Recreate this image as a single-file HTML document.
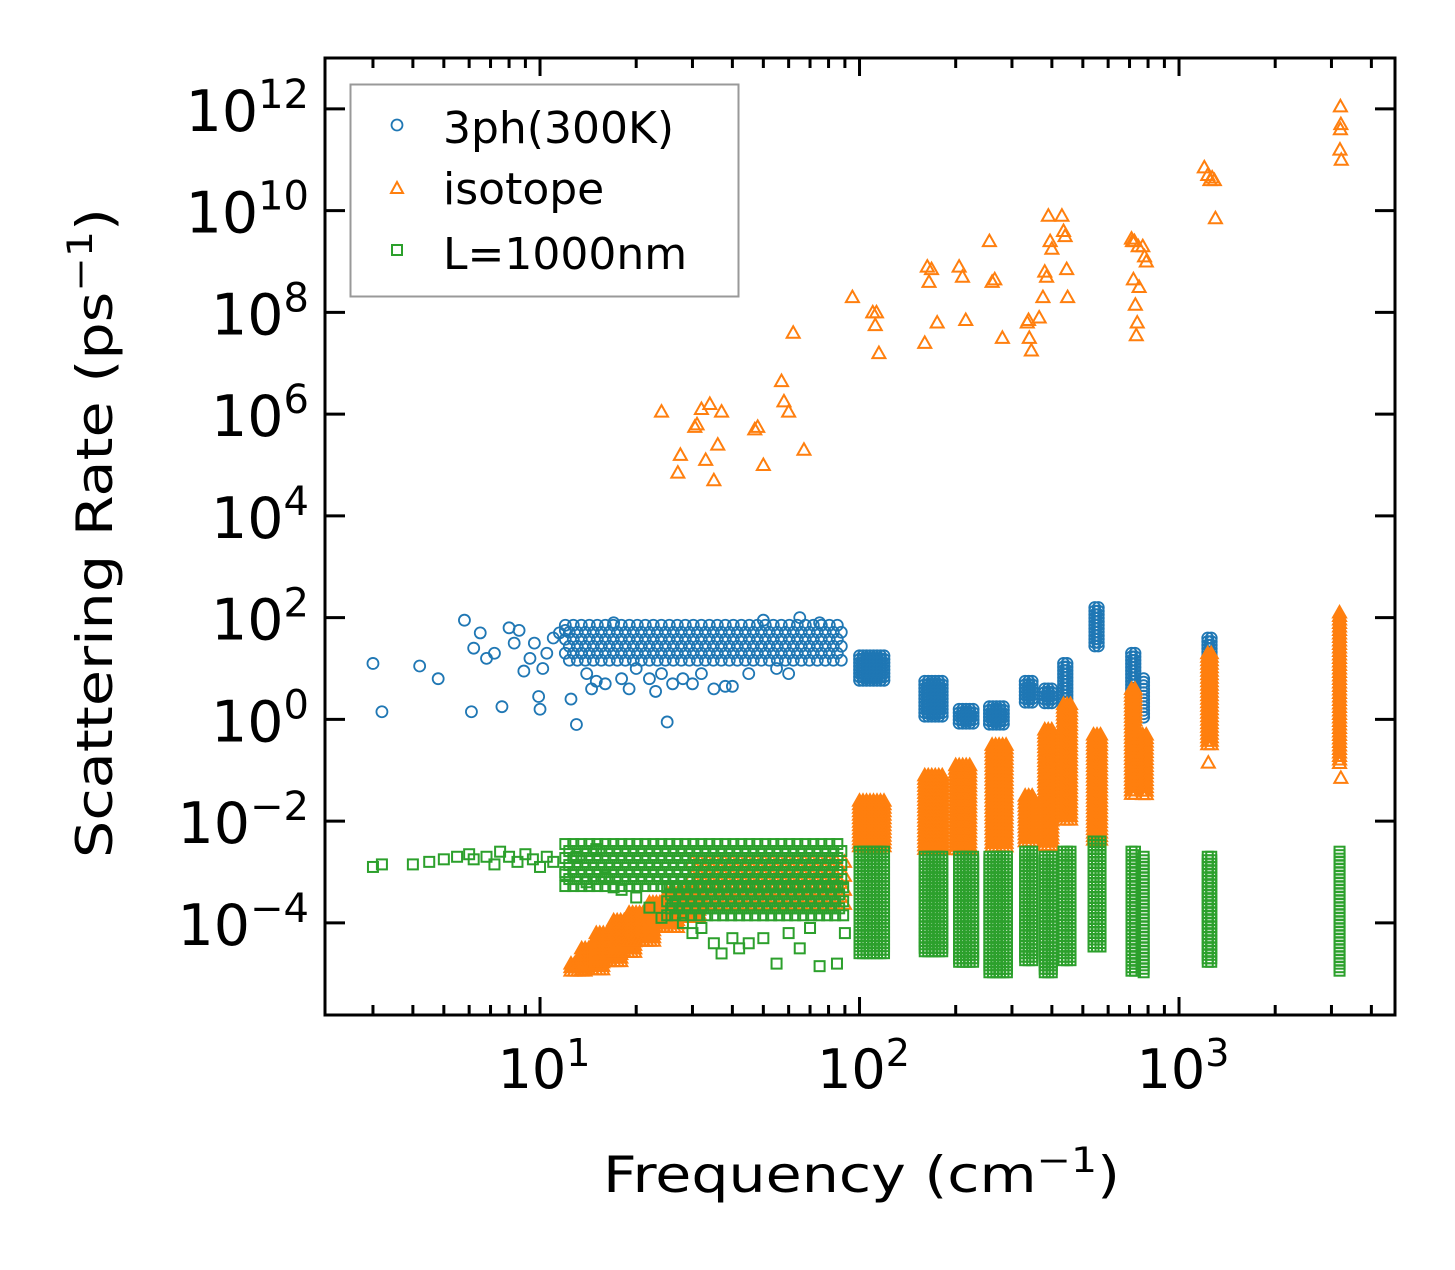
<!DOCTYPE html>
<html><head><meta charset="utf-8"><style>
body{margin:0;background:#fff}
svg text{font-family:"DejaVu Sans","Liberation Sans",sans-serif}
</style></head><body>
<svg id="chart" width="1455" height="1265" viewBox="0 0 1455 1265" xmlns="http://www.w3.org/2000/svg">
<rect width="1455" height="1265" fill="#fff"/>
<g id="marks"></g>
<g id="axes"></g>
<g>
<rect x="350.5" y="84.5" width="388" height="212" fill="#fff" fill-opacity="0.8" stroke="#999" stroke-width="2"/>
<circle cx="397" cy="125" r="5.5" fill="none" stroke="#1f77b4" stroke-width="1.8"/>
<text x="443" y="143" font-size="44">3ph(300K)</text>
<path d="M397,182 L403,193 L391,193 Z" fill="none" stroke="#ff7f0e" stroke-width="2"/>
<text x="443" y="204" font-size="44">isotope</text>
<rect x="392" y="245" width="10" height="10" fill="none" stroke="#2ca02c" stroke-width="2"/>
<text x="443" y="269" font-size="44">L=1000nm</text>
</g>
<text x="603" y="1192" font-size="50" textLength="517" lengthAdjust="spacingAndGlyphs">Frequency (cm<tspan dy="-20" font-size="35">−1</tspan><tspan dy="20">)</tspan></text>
<text transform="translate(112,858) rotate(-90)" font-size="50" textLength="650" lengthAdjust="spacingAndGlyphs">Scattering Rate (ps<tspan dy="-20" font-size="35">−1</tspan><tspan dy="20">)</tspan></text>
</svg>
<script>
// ---- data (frequency in cm^-1, value as log10 of rate) ----
const bluePts = [[3,1.1],[3.2,0.15],[4.2,1.05],[4.8,0.8],[5.8,1.95],[6.1,0.15],[6.2,1.4],[6.5,1.7],[6.8,1.2],[7.2,1.3],[7.6,0.25],[8,1.8],[8.3,1.5],[8.6,1.75],[8.9,0.95],[9.3,1.2],[9.6,1.5],[9.9,0.45],[10,0.2],[10.2,1.0],[10.5,1.3],[11,1.6],[11.5,1.7],[12,1.75],[12.5,0.4],[13,-0.1],[13.5,1.3],[14,0.9],[14.5,0.6],[15,0.75],[16,0.7],[17,1.9],[18,0.8],[19,0.6],[20,1.0],[22,0.8],[23,0.55],[24,0.9],[25,-0.05],[26,0.7],[28,0.8],[30,0.7],[32,0.9],[35,0.6],[38,0.65],[40,0.65],[45,0.9],[50,1.95],[55,1.0],[60,0.9],[65,2.0],[75,1.9]];
const blueCols = [[12,90,1.05,1.85],[100,120,0.7,1.25],[160,182,0.0,0.75],[205,228,-0.1,0.2],[255,285,-0.1,0.25],[330,350,0.3,0.75],[380,400,0.3,0.6],[435,455,-0.05,1.1],[545,570,1.4,2.2],[710,732,0.0,1.3],[775,790,0.0,0.8],[1230,1265,0.4,1.6],[3180,3230,0.3,1.9]];
const orangePts = [[24,6.05],[27,4.85],[27.5,5.2],[30.5,5.75],[31,5.8],[32,6.1],[33,5.1],[34,6.2],[35,4.7],[36,5.4],[37,6.05],[47,5.7],[48,5.75],[50,5.0],[57,6.65],[58,6.25],[60,6.05],[62,7.6],[67,5.3],[95,8.3],[110,8.0],[112,7.75],[113,8.0],[115,7.2],[160,7.4],[163,8.9],[165,8.6],[168,8.85],[175,7.8],[205,8.9],[210,8.7],[215,7.85],[255,9.4],[260,8.6],[265,8.65],[280,7.5],[335,7.8],[338,7.85],[340,7.5],[345,7.25],[365,7.9],[375,8.3],[380,8.8],[385,8.7],[390,9.9],[395,9.4],[400,9.25],[430,9.9],[435,9.6],[440,9.5],[445,8.85],[448,8.3],[710,9.45],[715,9.4],[720,8.65],[725,9.4],[730,8.15],[735,7.55],[740,7.8],[745,9.3],[750,8.5],[770,9.3],[780,9.1],[790,9.0],[1200,10.85],[1230,10.7],[1250,10.6],[1270,10.65],[1290,10.6],[1300,9.85],[3200,12.05],[3200,11.6],[3210,11.7],[3190,11.2],[3220,11.0],[3210,-1.15],[1235,-0.85]];
const orangeCols = [[12.5,14,-4.95,-4.8],[13.5,16,-4.95,-4.5],[15,18,-4.8,-4.2],[17,20,-4.6,-3.95],[19,23,-4.4,-3.8],[22,27,-4.1,-3.6],[25,32,-3.9,-3.4],[30,90,-3.7,-2.8],[100,120,-2.5,-1.6],[160,182,-2.6,-1.1],[200,222,-2.6,-0.9],[260,290,-2.5,-0.5],[330,352,-2.4,-1.5],[380,402,-2.5,-0.2],[435,458,-2.0,0.3],[540,570,-2.4,-0.3],[710,732,-1.5,0.6],[770,790,-1.5,-0.3],[1230,1265,-0.5,1.3],[3180,3230,-0.9,2.1]];
const greenPts = [[3,-2.9],[3.2,-2.85],[4,-2.85],[4.5,-2.8],[5,-2.75],[5.5,-2.7],[6,-2.65],[6.2,-2.75],[6.8,-2.7],[7.2,-2.85],[7.5,-2.6],[8,-2.7],[8.5,-2.8],[9,-2.65],[9.5,-2.75],[10,-2.9],[10.5,-2.7],[11,-2.8],[12,-3.05],[13,-2.7],[14,-3.2],[15,-2.55],[16,-3.1],[17,-3.3],[18,-3.35],[20,-3.5],[22,-3.7],[24,-3.9],[26,-3.65],[28,-4.0],[30,-4.2],[32,-4.1],[35,-4.4],[37,-4.6],[40,-4.3],[42,-4.5],[45,-4.4],[50,-4.3],[55,-4.8],[60,-4.2],[65,-4.5],[70,-4.1],[75,-4.85],[85,-4.8],[90,-4.2]];
const greenCols = [[12,90,-3.3,-2.45],[25,90,-3.9,-3.3],[100,122,-4.6,-2.6],[160,182,-4.6,-2.7],[205,228,-4.8,-2.7],[255,290,-5.0,-2.7],[330,352,-4.8,-2.6],[380,402,-5.0,-2.7],[435,458,-4.8,-2.6],[540,570,-4.5,-2.4],[710,732,-5.0,-2.6],[775,790,-5.0,-2.7],[1230,1265,-4.8,-2.7],[3180,3230,-5.0,-2.6]];
const yTickExps = [-4,-2,0,2,4,6,8,10,12];
const xTickExps = [1,2,3];

// ---- axis functions ----
const L=325,R=1395,T=58,B=1015;
const xMin=0.327,xMax=3.676,yMin=-5.81,yMax=13.0;
function xs(f){return L+(Math.log10(f)-xMin)/(xMax-xMin)*(R-L);}
function ys(e){return B-(e-yMin)/(yMax-yMin)*(B-T);}
const NS="http://www.w3.org/2000/svg";
const marks=document.getElementById('marks');
const axes=document.getElementById('axes');
function mk(tag,attrs,parent){const el=document.createElementNS(NS,tag);for(const k in attrs)el.setAttribute(k,attrs[k]);parent.appendChild(el);return el;}

const gB=mk('g',{},marks);


const gO=mk('g',{},marks);


const gG=mk('g',{},marks);



function circle(x,y){const el=mk('circle',{cx:x,cy:y,r:5.5,fill:'none',stroke:'#1f77b4','stroke-width':1.8},gB);

}
function tri(x,y){const el=mk('path',{d:`M${x},${y-6.5} L${x+6.5},${y+5} L${x-6.5},${y+5} Z`,fill:'none',stroke:'#ff7f0e','stroke-width':2},gO);

}
function sq(x,y){const el=mk('rect',{x:x-5,y:y-5,width:10,height:10,fill:'none',stroke:'#2ca02c','stroke-width':2},gG);

}

function drawCols(cols,fn){cols.forEach(c=>{const x0=xs(c[0]),x1=xs(c[1]),y0=ys(c[3]),y1=ys(c[2]);
 const wide=(x1-x0)>100;const sx=wide?8:3.5,sy=wide?7:3.5;let row=0;
 for(let y=y0;y<=y1+0.01;y+=sy,row++){const off=wide&&(row%2)?sx/2:0;for(let x=x0+off;x<=x1+0.01;x+=sx){fn(x,y);}}});}
bluePts.forEach(p=>circle(xs(p[0]),ys(p[1])));
drawCols(blueCols,circle);
orangePts.forEach(p=>tri(xs(p[0]),ys(p[1])));
drawCols(orangeCols,tri);
greenPts.forEach(p=>sq(xs(p[0]),ys(p[1])));
drawCols(greenCols,sq);

// ---- axes ----
const frame=mk('rect',{x:L,y:T,width:R-L,height:B-T,fill:'none',stroke:'#000','stroke-width':3},axes);


yTickExps.forEach(e=>{const y=ys(e);
 mk('line',{x1:L,x2:L+20,y1:y,y2:y,stroke:'#000','stroke-width':3},axes);
 mk('line',{x1:R,x2:R-20,y1:y,y2:y,stroke:'#000','stroke-width':3},axes);
 const t=mk('text',{x:L-16,y:y+22,'font-size':57,'text-anchor':'end'},axes);
 
 
 const base=document.createElementNS(NS,'tspan');base.textContent='10';t.appendChild(base);
 const sup=document.createElementNS(NS,'tspan');sup.setAttribute('dy','-23');sup.setAttribute('font-size','40');sup.textContent=String(e).replace('-','−');t.appendChild(sup);
});
for(let d=0;d<=3;d++){for(let m=1;m<=9;m++){const v=m*Math.pow(10,d);const lv=Math.log10(v);if(lv<xMin||lv>xMax)continue;
 const len=(m===1)?18:10;const x=xs(v);
 mk('line',{x1:x,x2:x,y1:B,y2:B-len,stroke:'#000','stroke-width':3},axes);
 mk('line',{x1:x,x2:x,y1:T,y2:T+len,stroke:'#000','stroke-width':3},axes);}}
xTickExps.forEach(e=>{const x=xs(Math.pow(10,e));
 const t=mk('text',{x:x+4,y:1088,'font-size':54,'text-anchor':'middle'},axes);
 
 
 const base=document.createElementNS(NS,'tspan');base.textContent='10';t.appendChild(base);
 const sup=document.createElementNS(NS,'tspan');sup.setAttribute('dy','-22');sup.setAttribute('font-size','38');sup.textContent=String(e);t.appendChild(sup);
});
</script>
</body></html>
